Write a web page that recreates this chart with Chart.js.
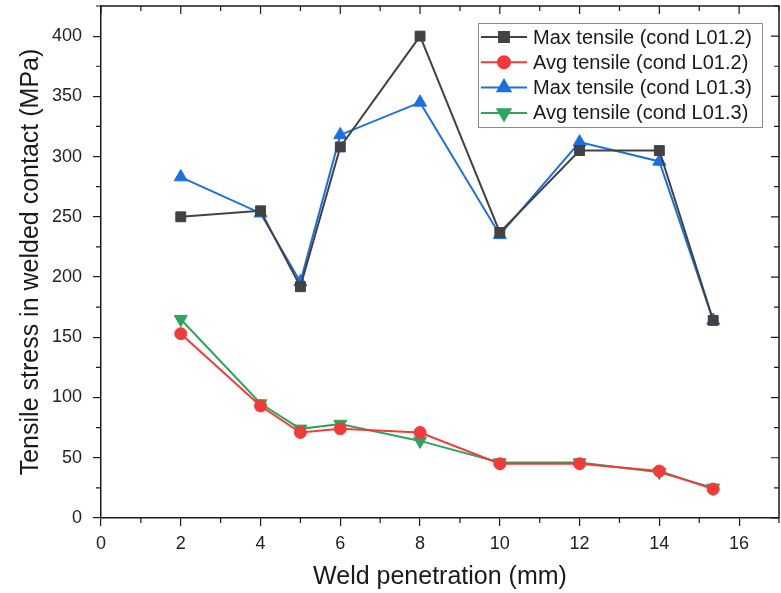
<!DOCTYPE html>
<html>
<head>
<meta charset="utf-8">
<script src="https://cdn.jsdelivr.net/npm/chart.js@4/dist/chart.umd.min.js"></script>
<style>
  html, body { margin: 0; padding: 0; background: #fff; }
  #wrap { width: 781px; height: 593px; }
</style>
</head>
<body>
<div id="wrap"><canvas id="c" width="781" height="593"></canvas></div>
<script>
// Weld penetration vs tensile stress, two welding conditions.
const penetration = [2, 4, 5, 6, 8, 10, 12, 14, 15.35];
const maxL012 = [250, 255, 192, 308, 400, 237, 305, 305, 164];
const avgL012 = [153, 93, 71, 74, 71, 45, 45, 39, 24];
const maxL013 = [283, 253, 196, 318, 345, 235, 312, 296, 164];
const avgL013 = [165, 95, 74, 78, 64, 46, 46, 38, 25];
const seriesLabels = [
  "Max tensile (cond L01.2)",
  "Avg tensile (cond L01.2)",
  "Max tensile (cond L01.3)",
  "Avg tensile (cond L01.3)",
];
const xTicks = [0, 2, 4, 6, 8, 10, 12, 14, 16];
const yTicks = [0, 50, 100, 150, 200, 250, 300, 350, 400];

const FONT = "'Liberation Sans', Arial, sans-serif";
const AXIS = "#1a1a1a";

const pts = (ys) => penetration.map((x, i) => ({ x, y: ys[i] }));

function ds(label, ys, color, style, radius, rotation) {
  return {
    label, data: pts(ys), borderColor: color, backgroundColor: color,
    borderWidth: 2, pointStyle: style, pointRadius: radius, pointHoverRadius: radius,
    pointRotation: rotation || 0, pointBorderWidth: 1, tension: 0,
  };
}

// frame, inward ticks on top/right, minor ticks, and the boxed legend
const framePlugin = {
  id: "frame",
  afterDraw(chart) {
    const { ctx, chartArea: a, scales } = chart;
    const xs = scales.x, ys = scales.y;
    ctx.save();
    ctx.strokeStyle = AXIS;
    ctx.lineWidth = 1.5;
    ctx.beginPath();
    ctx.moveTo(a.left, a.top); ctx.lineTo(a.right, a.top); ctx.lineTo(a.right, a.bottom);
    ctx.stroke();
    ctx.lineWidth = 1.2;
    ctx.beginPath();
    for (let v = 0; v <= 17; v += 1) {
      const px = xs.getPixelForValue(v);
      const major = v % 2 === 0;
      const len = major ? 8 : 5;
      if (!major) { ctx.moveTo(px, a.bottom); ctx.lineTo(px, a.bottom + len); }
      ctx.moveTo(px, a.top); ctx.lineTo(px, a.top + len);
    }
    for (let v = 0; v <= 425; v += 25) {
      const py = ys.getPixelForValue(v);
      const major = v % 50 === 0;
      const len = major ? 8 : 5;
      if (!major) { ctx.moveTo(a.left, py); ctx.lineTo(a.left - len, py); }
      ctx.moveTo(a.right, py); ctx.lineTo(a.right - len, py);
    }
    ctx.stroke();

    // legend box
    const lx = 478, ly = 23, lw = 284, lh = 104;
    ctx.fillStyle = "#fff";
    ctx.fillRect(lx, ly, lw, lh);
    ctx.strokeStyle = "#8a8a8a";
    ctx.lineWidth = 1;
    ctx.strokeRect(lx + 0.5, ly + 0.5, lw, lh);
    ctx.font = "20px " + FONT;
    ctx.textBaseline = "middle";
    chart.data.datasets.forEach((d, i) => {
      const y = 37 + i * 25.3;
      ctx.strokeStyle = d.borderColor;
      ctx.lineWidth = 2;
      ctx.beginPath(); ctx.moveTo(481, y); ctx.lineTo(527, y); ctx.stroke();
      ctx.fillStyle = d.backgroundColor;
      Chart.helpers.drawPoint(ctx, {
        pointStyle: d.pointStyle, radius: d.pointRadius, rotation: d.pointRotation,
        borderWidth: 1,
      }, 504, y);
      ctx.fillStyle = "#1a1a1a";
      ctx.fillText(d.label, 533, y + 1);
    });
    ctx.restore();
  },
};

new Chart(document.getElementById("c"), {
  type: "line",
  data: {
    datasets: [
      ds(seriesLabels[0], maxL012, "#424242", "rect", 7),
      ds(seriesLabels[1], avgL012, "#f23a3a", "circle", 6),
      ds(seriesLabels[2], maxL013, "#1b6fe0", "triangle", 7.5),
      ds(seriesLabels[3], avgL013, "#2da55c", "triangle", 7.5, 180),
    ],
  },
  options: {
    responsive: false,
    animation: false,
    layout: { autoPadding: false, padding: { left: 0, top: 6, right: 2, bottom: 0 } },
    plugins: { legend: { display: false }, tooltip: { enabled: false } },
    scales: {
      x: {
        type: "linear", min: 0, max: 17,
        afterBuildTicks: (s) => { s.ticks = xTicks.map((v) => ({ value: v })); },
        afterFit: (s) => { s.height = 75; s.paddingLeft = 0; s.paddingRight = 0; },
        grid: { drawOnChartArea: false, tickLength: 8, color: AXIS, lineWidth: 1.2 },
        border: { color: AXIS, width: 1.5 },
        ticks: { color: "#222", font: { family: FONT, size: 18 }, padding: 7, maxRotation: 0 },
        title: { display: true, text: "Weld penetration (mm)", color: "#1a1a1a",
          font: { family: FONT, size: 25 }, padding: { top: 0, bottom: 1 } },
      },
      y: {
        type: "linear", min: 0, max: 425,
        afterBuildTicks: (s) => { s.ticks = yTicks.map((v) => ({ value: v })); },
        afterFit: (s) => { s.width = 101; s.paddingTop = 0; s.paddingBottom = 0; },
        grid: { drawOnChartArea: false, tickLength: 8, color: AXIS, lineWidth: 1.2 },
        border: { color: AXIS, width: 1.5 },
        ticks: { color: "#222", font: { family: FONT, size: 18 }, padding: 11 },
        title: { display: true, text: "Tensile stress in welded contact (MPa)", color: "#1a1a1a",
          font: { family: FONT, size: 25 }, padding: { top: 16, bottom: 0 } },
      },
    },
  },
  plugins: [framePlugin],
});
</script>
</body>
</html>
